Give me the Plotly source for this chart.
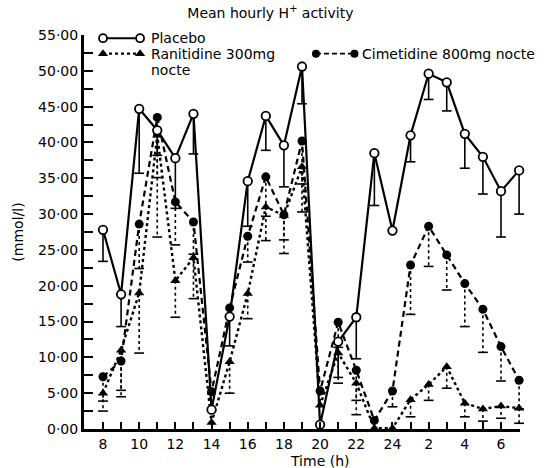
import plotly.graph_objects as go

# ---------------- data ----------------
hours = list(range(8, 32))  # 8 h .. 7 h next morning (31)
label_hours = [8, 10, 12, 14, 16, 18, 20, 22, 24, 26, 28, 30]
hour_labels = ["8", "10", "12", "14", "16", "18", "20", "22", "24", "2", "4", "6"]

placebo = [27.8, 18.8, 44.7, 41.7, 37.8, 44.0, 2.7, 15.7, 34.6, 43.7, 39.6, 50.6,
           0.6, 12.2, 15.6, 38.5, 27.7, 41.0, 49.6, 48.4, 41.2, 38.0, 33.2, 36.1]
placebo_err = [4.4, 4.5, 9.0, 3.5, 7.0, 5.6, 0, 4.1, 6.3, 4.8, 5.8, 5.2,
               0, 5.0, 5.8, 7.3, 0, 3.7, 3.6, 4.0, 4.8, 5.2, 6.4, 6.1]

ranitidine = [5.0, 11.0, 19.0, 41.0, 20.7, 23.9, 0.9, 9.4, 18.9, 31.0, 29.8, 36.6,
              3.3, 10.6, 6.4, 0.1, 0.1, 4.1, 6.2, 8.7, 3.6, 2.8, 3.2, 2.9]
ranitidine_err = [2.5, 6.5, 8.4, 5.9, 5.1, 5.7, 0, 4.4, 3.5, 4.7, 5.3, 6.3,
                  0, 4.2, 4.4, 0, 0, 2.4, 2.2, 3.0, 1.9, 1.7, 1.7, 2.1]

cimetidine = [7.3, 9.5, 28.6, 43.5, 31.7, 28.9, 5.2, 16.9, 26.9, 35.2, 29.9, 40.2,
              5.3, 14.9, 8.2, 1.2, 5.3, 22.9, 28.3, 24.3, 20.3, 16.7, 11.5, 6.8]
cimetidine_err = [3.4, 4.1, 6.2, 16.7, 6.0, 4.5, 0, 0, 3.6, 5.5, 3.5, 6.0,
                  0, 3.5, 4.2, 0, 2.2, 6.9, 5.6, 4.9, 6.0, 6.0, 4.8, 4.0]

y_ticks = [i * 5 for i in range(12)]
y_labels = ["%d·00" % v for v in y_ticks]

FONT = "DejaVu Sans"
BLACK = "black"

fig = go.Figure()


def add_err(vals, errs, dash, width):
    xs, ys, cx, cy = [], [], [], []
    for h, v, e in zip(hours, vals, errs):
        if e > 0:
            xs += [h, h, None]
            ys += [v, v - e, None]
            cx.append(h)
            cy.append(v - e)
    fig.add_trace(go.Scatter(x=xs, y=ys, mode="lines", cliponaxis=False,
                             line=dict(color=BLACK, width=width, dash=dash),
                             showlegend=False, hoverinfo="skip"))
    fig.add_trace(go.Scatter(x=cx, y=cy, mode="markers", cliponaxis=False,
                             marker=dict(symbol="line-ew", size=7,
                                         line=dict(color=BLACK, width=1.6)),
                             showlegend=False, hoverinfo="skip"))


add_err(ranitidine, ranitidine_err, "dot", 1.6)
add_err(cimetidine, cimetidine_err, "dot", 1.6)
add_err(placebo, placebo_err, "solid", 1.6)

# series
fig.add_trace(go.Scatter(x=hours, y=ranitidine, mode="lines+markers", cliponaxis=False,
                         name="Ranitidine 300mg nocte",
                         line=dict(color=BLACK, width=2.4, dash="dot"),
                         marker=dict(symbol="triangle-up", size=9, color=BLACK),
                         showlegend=False))
fig.add_trace(go.Scatter(x=hours, y=cimetidine, mode="lines+markers", cliponaxis=False,
                         name="Cimetidine 800mg nocte",
                         line=dict(color=BLACK, width=2.2, dash="6px,4px"),
                         marker=dict(symbol="circle", size=9, color=BLACK),
                         showlegend=False))
fig.add_trace(go.Scatter(x=hours, y=placebo, mode="lines+markers", cliponaxis=False,
                         name="Placebo",
                         line=dict(color=BLACK, width=2.2),
                         marker=dict(symbol="circle", size=8.5, color="white",
                                     line=dict(color=BLACK, width=1.8)),
                         showlegend=False))

# ---------------- custom legend (in axis coordinates) ----------------
LEG_X0, LEG_X1, LEG_TX = 8.0, 10.05, 10.6
LEG_Y1, LEG_Y2, LEG_Y3 = 54.55, 52.4, 50.1
CIM_X0, CIM_X1, CIM_TX = 19.77, 21.9, 22.25

fig.add_trace(go.Scatter(x=[LEG_X0, LEG_X1], y=[LEG_Y1, LEG_Y1], mode="lines+markers",
                         cliponaxis=False, showlegend=False, hoverinfo="skip",
                         line=dict(color=BLACK, width=2),
                         marker=dict(symbol="circle", size=8, color="white",
                                     line=dict(color=BLACK, width=1.8))))
fig.add_trace(go.Scatter(x=[LEG_X0, LEG_X1], y=[LEG_Y2, LEG_Y2], mode="lines+markers",
                         cliponaxis=False, showlegend=False, hoverinfo="skip",
                         line=dict(color=BLACK, width=2.4, dash="dot"),
                         marker=dict(symbol="triangle-up", size=9, color=BLACK)))
fig.add_trace(go.Scatter(x=[CIM_X0, CIM_X1], y=[LEG_Y2, LEG_Y2], mode="lines+markers",
                         cliponaxis=False, showlegend=False, hoverinfo="skip",
                         line=dict(color=BLACK, width=1.8, dash="5px,3px"),
                         marker=dict(symbol="circle", size=8, color=BLACK)))

ann_font = dict(family=FONT, size=14, color=BLACK)
annotations = [
    dict(x=LEG_TX, y=LEG_Y1, xref="x", yref="y", text="Placebo", showarrow=False,
         xanchor="left", yanchor="middle", font=ann_font, borderpad=0),
    dict(x=LEG_TX, y=LEG_Y2, xref="x", yref="y", text="Ranitidine 300mg", showarrow=False,
         xanchor="left", yanchor="middle", font=ann_font, borderpad=0),
    dict(x=LEG_TX, y=LEG_Y3, xref="x", yref="y", text="nocte", showarrow=False,
         xanchor="left", yanchor="middle", font=ann_font, borderpad=0),
    dict(x=CIM_TX, y=LEG_Y2, xref="x", yref="y", text="Cimetidine 800mg nocte",
         showarrow=False, xanchor="left", yanchor="middle", font=ann_font, borderpad=0),
    dict(x=20.0, y=-0.081, xref="x", yref="paper", text="Time (h)", showarrow=False,
         xanchor="center", yanchor="middle", font=ann_font, borderpad=0),
]

fig.update_layout(
    width=544, height=468,
    margin=dict(l=84, r=24, t=35, b=39),
    paper_bgcolor="white", plot_bgcolor="white",
    font=dict(family=FONT, size=14, color=BLACK),
    title=dict(text="Mean hourly H<sup>+</sup> activity", x=0.497, xanchor="center",
               y=0.972, yanchor="middle", font=dict(family=FONT, size=14, color=BLACK)),
    annotations=annotations,
    xaxis=dict(range=[6.95, 31.05], showline=True, linewidth=3, linecolor=BLACK,
               ticks="inside", ticklen=7, tickwidth=1.6, tickcolor=BLACK,
               tickmode="array", tickvals=label_hours, ticktext=hour_labels,
               minor=dict(tickmode="array", tickvals=hours, ticks="inside", ticklen=7,
                          tickwidth=1.6, tickcolor=BLACK, showgrid=False),
               showgrid=False, zeroline=False,
               tickfont=dict(family=FONT, size=14, color=BLACK)),
    yaxis=dict(range=[0, 55], showline=True, linewidth=3, linecolor=BLACK,
               ticks="inside", ticklen=9, tickwidth=1.6, tickcolor=BLACK,
               tickmode="array", tickvals=y_ticks, ticktext=y_labels,
               minor=dict(dtick=2.5, tick0=0, ticks="inside", ticklen=9,
                          tickwidth=1.6, tickcolor=BLACK, showgrid=False),
               showgrid=False, zeroline=False,
               tickfont=dict(family=FONT, size=14, color=BLACK),
               title=dict(text="(mmol/l)", standoff=12,
                          font=dict(family=FONT, size=14, color=BLACK))),
)

fig.write_html("out.html")
